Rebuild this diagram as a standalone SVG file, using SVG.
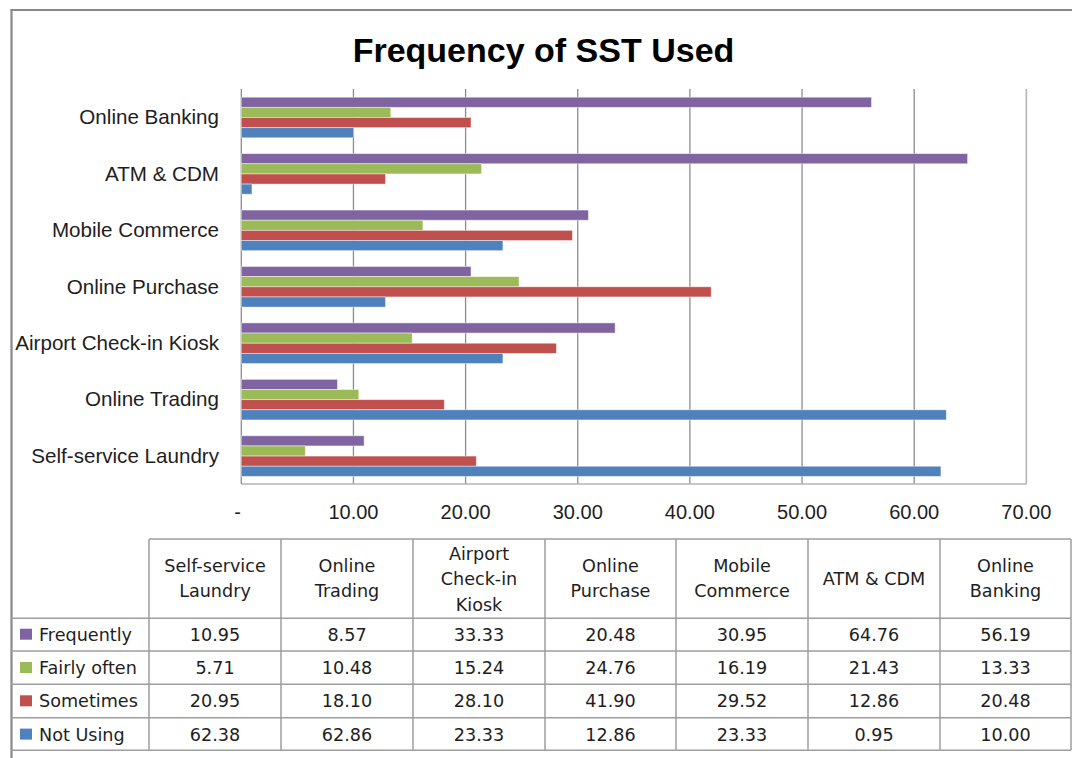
<svg xmlns="http://www.w3.org/2000/svg" width="1072" height="758" viewBox="0 0 1072 758">
  <style>
    .title { font-family: "Liberation Sans", Arial, sans-serif; font-weight: bold; font-size: 34px; fill: #000; }
    .cat { font-family: "Liberation Sans", Arial, sans-serif; font-size: 20.6px; fill: #1e1e1e; text-anchor: end; }
    .tick { font-family: "Liberation Sans", Arial, sans-serif; font-size: 20px; fill: #1e1e1e; text-anchor: middle; }
    .tbl { font-family: "DejaVu Sans", Verdana, sans-serif; font-size: 17.6px; fill: #1e1e1e; text-anchor: middle; }
    .leg { font-family: "DejaVu Sans", Verdana, sans-serif; font-size: 17.6px; fill: #1e1e1e; }
    .grid { stroke: #8c8c8c; stroke-width: 1.3; fill: none; }
    .edge { stroke: #b4b4b4; stroke-width: 1.6; fill: none; }
    .frame { stroke: #888; stroke-width: 2.2; fill: none; }
    .tline { stroke: #9e9e9e; stroke-width: 1.5; fill: none; }
    .bar { stroke: #ffffff; stroke-opacity: 0.55; stroke-width: 0.8; }
    .f { fill: #8064A2; }
    .o { fill: #9BBB59; }
    .s { fill: #C0504D; }
    .n { fill: #4F81BD; }
  </style>

  <rect width="1072" height="758" fill="#fff"/>

  <!-- outer chart frame -->
  <g id="frame">
    <line class="frame" x1="11.5" y1="10" x2="11.5" y2="758"/>
    <line class="frame" x1="10.5" y1="10" x2="1072" y2="10"/>
  </g>

  <text id="title" class="title" x="543.5" y="62" text-anchor="middle">Frequency of SST Used</text>

  <!-- plot area: x(v) = 241.3 + 11.215 * v -->
  <g id="gridlines">
    <line class="grid" x1="353.45" y1="89" x2="353.45" y2="484"/>
    <line class="grid" x1="465.6" y1="89" x2="465.6" y2="484"/>
    <line class="grid" x1="577.75" y1="89" x2="577.75" y2="484"/>
    <line class="grid" x1="689.9" y1="89" x2="689.9" y2="484"/>
    <line class="grid" x1="802.05" y1="89" x2="802.05" y2="484"/>
    <line class="grid" x1="914.2" y1="89" x2="914.2" y2="484"/>
    <line class="edge" x1="1026.35" y1="89" x2="1026.35" y2="484"/>
    <line class="edge" x1="241.3" y1="484" x2="1026.35" y2="484"/>
    <line class="grid" x1="241.3" y1="89" x2="241.3" y2="484"/>
  </g>

  <g id="bars">
    <!-- Online Banking -->
    <rect class="bar f" x="241.3" y="97.2" width="630.2" height="10.15"/>
    <rect class="bar o" x="241.3" y="107.35" width="149.5" height="10.15"/>
    <rect class="bar s" x="241.3" y="117.5" width="229.7" height="10.15"/>
    <rect class="bar n" x="241.3" y="127.65" width="112.15" height="10.15"/>
    <!-- ATM & CDM -->
    <rect class="bar f" x="241.3" y="153.63" width="726.3" height="10.15"/>
    <rect class="bar o" x="241.3" y="163.78" width="240.3" height="10.15"/>
    <rect class="bar s" x="241.3" y="173.93" width="144.2" height="10.15"/>
    <rect class="bar n" x="241.3" y="184.08" width="10.65" height="10.15"/>
    <!-- Mobile Commerce -->
    <rect class="bar f" x="241.3" y="210.06" width="347.1" height="10.15"/>
    <rect class="bar o" x="241.3" y="220.21" width="181.6" height="10.15"/>
    <rect class="bar s" x="241.3" y="230.36" width="331.1" height="10.15"/>
    <rect class="bar n" x="241.3" y="240.51" width="261.6" height="10.15"/>
    <!-- Online Purchase -->
    <rect class="bar f" x="241.3" y="266.49" width="229.7" height="10.15"/>
    <rect class="bar o" x="241.3" y="276.64" width="277.7" height="10.15"/>
    <rect class="bar s" x="241.3" y="286.79" width="469.9" height="10.15"/>
    <rect class="bar n" x="241.3" y="296.94" width="144.2" height="10.15"/>
    <!-- Airport Check-in Kiosk -->
    <rect class="bar f" x="241.3" y="322.92" width="373.8" height="10.15"/>
    <rect class="bar o" x="241.3" y="333.07" width="170.9" height="10.15"/>
    <rect class="bar s" x="241.3" y="343.22" width="315.1" height="10.15"/>
    <rect class="bar n" x="241.3" y="353.37" width="261.6" height="10.15"/>
    <!-- Online Trading -->
    <rect class="bar f" x="241.3" y="379.35" width="96.1" height="10.15"/>
    <rect class="bar o" x="241.3" y="389.5" width="117.5" height="10.15"/>
    <rect class="bar s" x="241.3" y="399.65" width="203.0" height="10.15"/>
    <rect class="bar n" x="241.3" y="409.8" width="705.0" height="10.15"/>
    <!-- Self-service Laundry -->
    <rect class="bar f" x="241.3" y="435.78" width="122.8" height="10.15"/>
    <rect class="bar o" x="241.3" y="445.93" width="64.0" height="10.15"/>
    <rect class="bar s" x="241.3" y="456.08" width="235.0" height="10.15"/>
    <rect class="bar n" x="241.3" y="466.23" width="699.6" height="10.15"/>
  </g>

  <g id="category-labels">
    <text class="cat" x="219" y="124.4">Online Banking</text>
    <text class="cat" x="219" y="180.8">ATM &amp; CDM</text>
    <text class="cat" x="219" y="237.2">Mobile Commerce</text>
    <text class="cat" x="219" y="293.6">Online Purchase</text>
    <text class="cat" x="219" y="350.0">Airport Check-in Kiosk</text>
    <text class="cat" x="219" y="406.4">Online Trading</text>
    <text class="cat" x="219" y="462.6">Self-service Laundry</text>
  </g>

  <g id="value-axis">
    <text class="tick" x="237.5" y="518.5">-</text>
    <text class="tick" x="353.45" y="518.5">10.00</text>
    <text class="tick" x="465.6" y="518.5">20.00</text>
    <text class="tick" x="577.75" y="518.5">30.00</text>
    <text class="tick" x="689.9" y="518.5">40.00</text>
    <text class="tick" x="802.05" y="518.5">50.00</text>
    <text class="tick" x="914.2" y="518.5">60.00</text>
    <text class="tick" x="1026.35" y="518.5">70.00</text>
  </g>

  <!-- data table -->
  <g id="table-grid">
    <line class="tline" x1="149" y1="539" x2="1071" y2="539"/>
    <line class="tline" x1="11" y1="618.3" x2="1071" y2="618.3"/>
    <line class="tline" x1="11" y1="651" x2="1071" y2="651"/>
    <line class="tline" x1="11" y1="684.3" x2="1071" y2="684.3"/>
    <line class="tline" x1="11" y1="717.7" x2="1071" y2="717.7"/>
    <line class="tline" x1="11" y1="750.3" x2="1071" y2="750.3"/>
    <line class="tline" x1="149" y1="539" x2="149" y2="750.3"/>
    <line class="tline" x1="281" y1="539" x2="281" y2="750.3"/>
    <line class="tline" x1="413" y1="539" x2="413" y2="750.3"/>
    <line class="tline" x1="545" y1="539" x2="545" y2="750.3"/>
    <line class="tline" x1="676" y1="539" x2="676" y2="750.3"/>
    <line class="tline" x1="808" y1="539" x2="808" y2="750.3"/>
    <line class="tline" x1="940" y1="539" x2="940" y2="750.3"/>
    <line class="tline" x1="1071" y1="539" x2="1071" y2="750.3"/>
  </g>

  <g id="table-header">
    <text class="tbl" x="215" y="571.7">Self-service</text>
    <text class="tbl" x="215" y="596.7">Laundry</text>
    <text class="tbl" x="347" y="571.7">Online</text>
    <text class="tbl" x="347" y="596.7">Trading</text>
    <text class="tbl" x="479" y="560">Airport</text>
    <text class="tbl" x="479" y="585">Check-in</text>
    <text class="tbl" x="479" y="610.5">Kiosk</text>
    <text class="tbl" x="610.5" y="571.7">Online</text>
    <text class="tbl" x="610.5" y="596.7">Purchase</text>
    <text class="tbl" x="742" y="571.7">Mobile</text>
    <text class="tbl" x="742" y="596.7">Commerce</text>
    <text class="tbl" x="874" y="585">ATM &amp; CDM</text>
    <text class="tbl" x="1005.5" y="571.7">Online</text>
    <text class="tbl" x="1005.5" y="596.7">Banking</text>
  </g>

  <g id="legend">
    <rect class="f" x="20" y="628.7" width="12" height="11"/>
    <text class="leg" x="39" y="640.7">Frequently</text>
    <rect class="o" x="20" y="662" width="12" height="11"/>
    <text class="leg" x="39" y="674">Fairly often</text>
    <rect class="s" x="20" y="695.3" width="12" height="11"/>
    <text class="leg" x="39" y="707.3">Sometimes</text>
    <rect class="n" x="20" y="728.6" width="12" height="11"/>
    <text class="leg" x="39" y="740.5">Not Using</text>
  </g>

  <g id="table-values">
    <!-- Frequently -->
    <text class="tbl" x="215" y="640.7">10.95</text>
    <text class="tbl" x="347" y="640.7">8.57</text>
    <text class="tbl" x="479" y="640.7">33.33</text>
    <text class="tbl" x="610.5" y="640.7">20.48</text>
    <text class="tbl" x="742" y="640.7">30.95</text>
    <text class="tbl" x="874" y="640.7">64.76</text>
    <text class="tbl" x="1005.5" y="640.7">56.19</text>
    <!-- Fairly often -->
    <text class="tbl" x="215" y="674">5.71</text>
    <text class="tbl" x="347" y="674">10.48</text>
    <text class="tbl" x="479" y="674">15.24</text>
    <text class="tbl" x="610.5" y="674">24.76</text>
    <text class="tbl" x="742" y="674">16.19</text>
    <text class="tbl" x="874" y="674">21.43</text>
    <text class="tbl" x="1005.5" y="674">13.33</text>
    <!-- Sometimes -->
    <text class="tbl" x="215" y="707.3">20.95</text>
    <text class="tbl" x="347" y="707.3">18.10</text>
    <text class="tbl" x="479" y="707.3">28.10</text>
    <text class="tbl" x="610.5" y="707.3">41.90</text>
    <text class="tbl" x="742" y="707.3">29.52</text>
    <text class="tbl" x="874" y="707.3">12.86</text>
    <text class="tbl" x="1005.5" y="707.3">20.48</text>
    <!-- Not Using -->
    <text class="tbl" x="215" y="740.5">62.38</text>
    <text class="tbl" x="347" y="740.5">62.86</text>
    <text class="tbl" x="479" y="740.5">23.33</text>
    <text class="tbl" x="610.5" y="740.5">12.86</text>
    <text class="tbl" x="742" y="740.5">23.33</text>
    <text class="tbl" x="874" y="740.5">0.95</text>
    <text class="tbl" x="1005.5" y="740.5">10.00</text>
  </g>
</svg>
